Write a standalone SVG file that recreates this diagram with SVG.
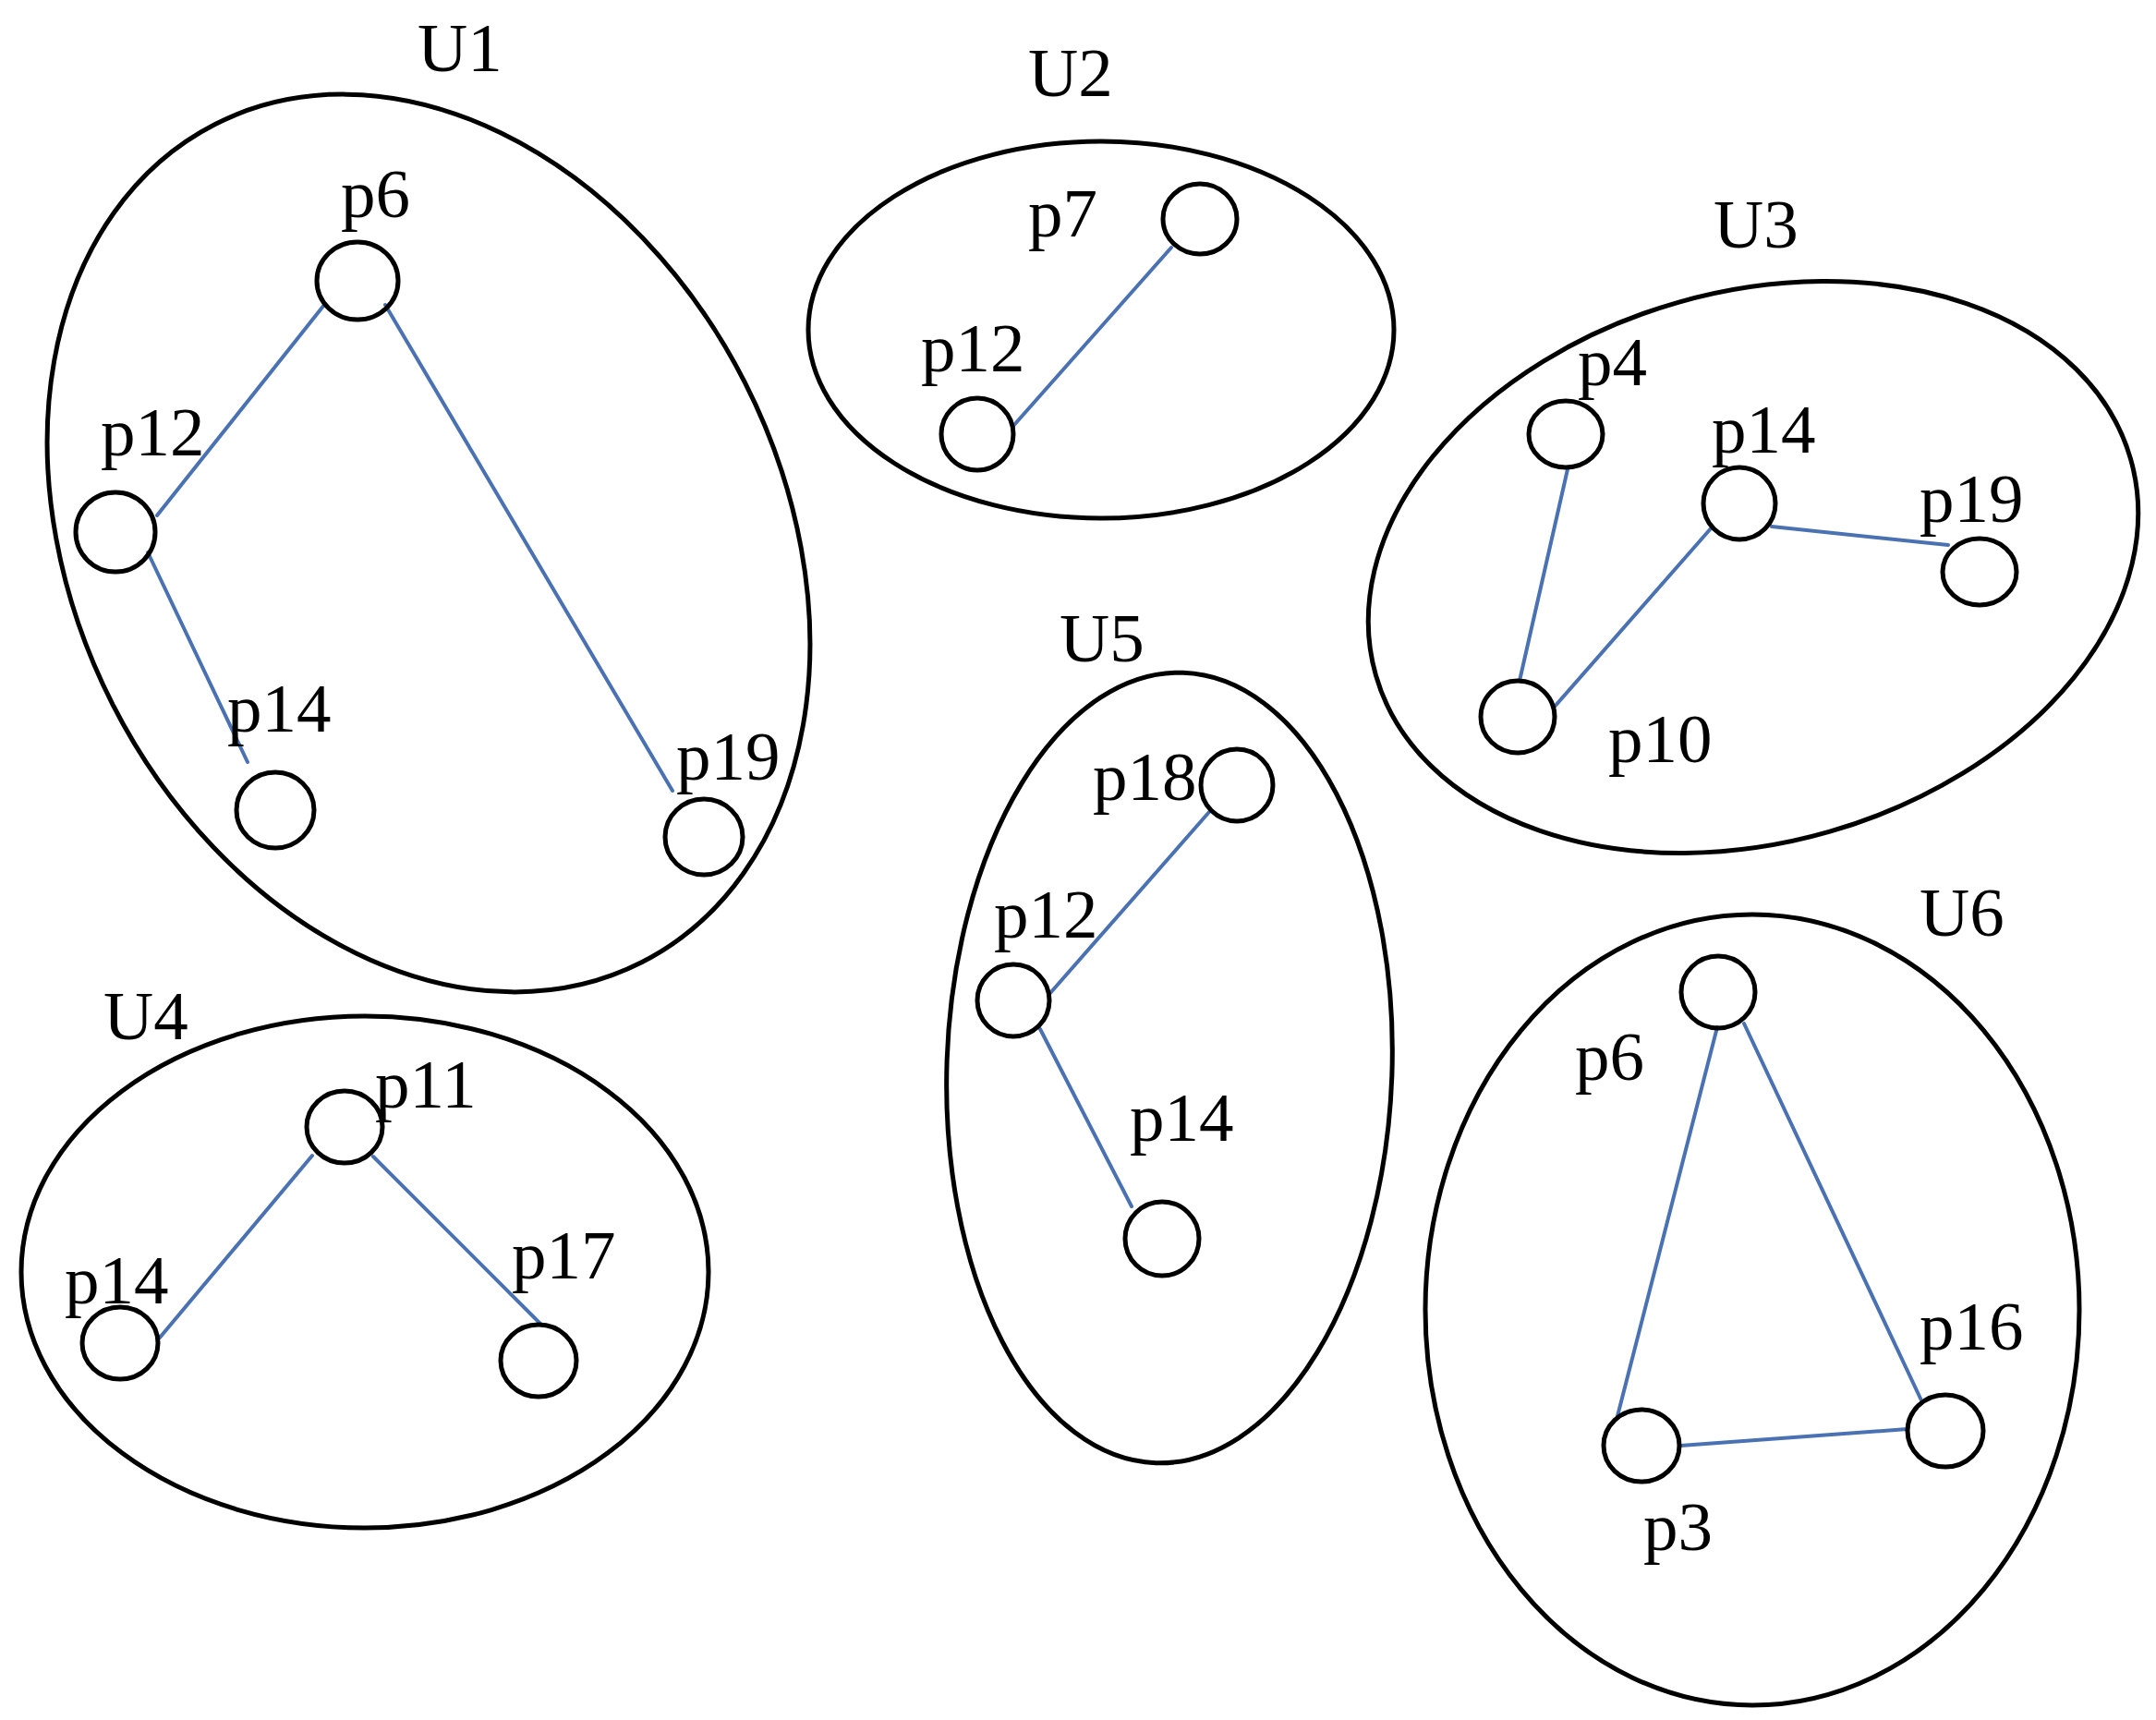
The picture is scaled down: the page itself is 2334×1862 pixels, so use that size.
<svg xmlns="http://www.w3.org/2000/svg" width="2334" height="1862" viewBox="0 0 2334 1862">
<style>
.grp{fill:none;stroke:#000;stroke-width:5}
.nd{fill:none;stroke:#000;stroke-width:5}
.ed{stroke:#4a72b2;stroke-width:4;fill:none;stroke-linecap:round}
text{font-family:"Liberation Serif","Times New Roman",serif;font-size:75px;fill:#000}
</style>
<rect width="2334" height="1862" fill="#fff"/>
<g id="connectors">
<line class="ed" x1="351" y1="330" x2="170" y2="558"/>
<line class="ed" x1="417" y1="330" x2="728" y2="856"/>
<line class="ed" x1="160" y1="598" x2="268" y2="825"/>
<line class="ed" x1="1268" y1="268" x2="1097" y2="461"/>
<line class="ed" x1="1697" y1="508" x2="1645" y2="737"/>
<line class="ed" x1="1853" y1="571" x2="1682" y2="766"/>
<line class="ed" x1="1918" y1="570" x2="2109" y2="590"/>
<line class="ed" x1="338" y1="1251" x2="173" y2="1448"/>
<line class="ed" x1="404" y1="1252" x2="586" y2="1434"/>
<line class="ed" x1="1309" y1="879" x2="1137" y2="1075"/>
<line class="ed" x1="1126" y1="1114" x2="1225" y2="1306"/>
<line class="ed" x1="1859" y1="1112" x2="1751" y2="1533"/>
<line class="ed" x1="1888" y1="1108" x2="2080" y2="1516"/>
<line class="ed" x1="1819" y1="1565" x2="2065" y2="1547"/>
</g>
<g id="U1">
<ellipse class="grp" cx="0" cy="0" rx="384" ry="509" transform="translate(464,588) rotate(-27)"/>
<text x="452" y="77">U1</text>
</g>
<g id="U1-p6"><ellipse class="nd" cx="387" cy="304" rx="44" ry="42"/><text x="369" y="235">p6</text></g>
<g id="U1-p12"><ellipse class="nd" cx="125" cy="576" rx="43" ry="43"/><text x="109" y="493">p12</text></g>
<g id="U1-p14"><ellipse class="nd" cx="298" cy="877" rx="42" ry="41"/><text x="246" y="792">p14</text></g>
<g id="U1-p19"><ellipse class="nd" cx="762" cy="906" rx="42" ry="41"/><text x="732" y="844">p19</text></g>
<g id="U2">
<ellipse class="grp" cx="1192" cy="357" rx="317" ry="204"/>
<text x="1113" y="104">U2</text>
</g>
<g id="U2-p7"><ellipse class="nd" cx="1299" cy="237" rx="40" ry="38"/><text x="1113" y="256">p7</text></g>
<g id="U2-p12"><ellipse class="nd" cx="1058" cy="470" rx="39" ry="39"/><text x="997" y="402">p12</text></g>
<g id="U3">
<ellipse class="grp" cx="0" cy="0" rx="425" ry="298" transform="translate(1898,614) rotate(-16)"/>
<text x="1855" y="268">U3</text>
</g>
<g id="U3-p4"><ellipse class="nd" cx="1695" cy="470" rx="40" ry="36"/><text x="1708" y="417">p4</text></g>
<g id="U3-p14"><ellipse class="nd" cx="1883" cy="545" rx="39" ry="39"/><text x="1853" y="490">p14</text></g>
<g id="U3-p19"><ellipse class="nd" cx="2143" cy="619" rx="40" ry="36"/><text x="2078" y="565">p19</text></g>
<g id="U3-p10"><ellipse class="nd" cx="1643" cy="776" rx="40" ry="39"/><text x="1741" y="825">p10</text></g>
<g id="U4">
<ellipse class="grp" cx="395" cy="1377" rx="372" ry="277"/>
<text x="112" y="1125">U4</text>
</g>
<g id="U4-p11"><ellipse class="nd" cx="373" cy="1220" rx="41" ry="39"/><text x="406" y="1199">p11</text></g>
<g id="U4-p14"><ellipse class="nd" cx="130" cy="1454" rx="41" ry="39"/><text x="70" y="1411">p14</text></g>
<g id="U4-p17"><ellipse class="nd" cx="583" cy="1473" rx="41" ry="39"/><text x="554" y="1384">p17</text></g>
<g id="U5">
<ellipse class="grp" cx="0" cy="0" rx="241" ry="428" transform="translate(1266,1156) rotate(2)"/>
<text x="1147" y="716">U5</text>
</g>
<g id="U5-p18"><ellipse class="nd" cx="1339" cy="850" rx="39" ry="39"/><text x="1183" y="866">p18</text></g>
<g id="U5-p12"><ellipse class="nd" cx="1097" cy="1083" rx="39" ry="39"/><text x="1076" y="1015">p12</text></g>
<g id="U5-p14"><ellipse class="nd" cx="1258" cy="1341" rx="40" ry="40"/><text x="1223" y="1235">p14</text></g>
<g id="U6">
<ellipse class="grp" cx="1897" cy="1418" rx="354" ry="428"/>
<text x="2078" y="1013">U6</text>
</g>
<g id="U6-p6"><ellipse class="nd" cx="1860" cy="1074" rx="40" ry="39"/><text x="1705" y="1169">p6</text></g>
<g id="U6-p3"><ellipse class="nd" cx="1777" cy="1565" rx="41" ry="39"/><text x="1779" y="1678">p3</text></g>
<g id="U6-p16"><ellipse class="nd" cx="2106" cy="1549" rx="41" ry="39"/><text x="2078" y="1461">p16</text></g>
</svg>
